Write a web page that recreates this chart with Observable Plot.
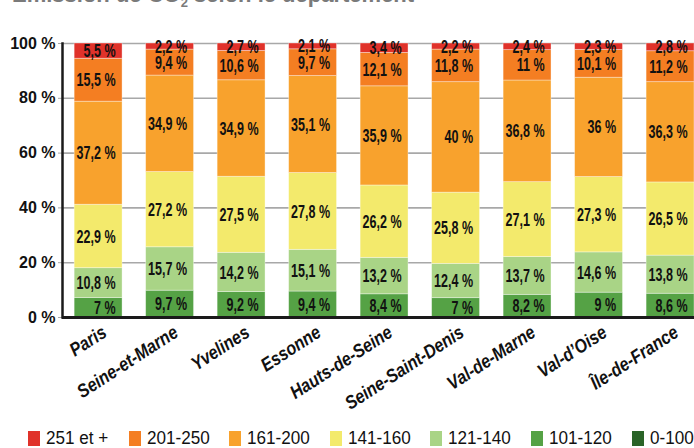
<!DOCTYPE html>
<html lang="fr">
<head>
<meta charset="utf-8">
<script src="https://cdn.jsdelivr.net/npm/d3@7"></script>
<script src="https://cdn.jsdelivr.net/npm/@observablehq/plot@0.6"></script>
<style>
  html, body { margin: 0; padding: 0; background: #fff; overflow: hidden; }
  body { width: 694px; height: 448px; position: relative; font-family: "Liberation Sans", Arial, sans-serif; }
  #title {
    position: absolute; top: -18px; left: 12px; margin: 0; z-index: 2;
    font: bold 22px "Liberation Sans", Arial, sans-serif; color: #7a7a7a; white-space: nowrap;
  }
  #chart { position: absolute; top: 0; left: 0; z-index: 1; }
  #legend {
    position: absolute; top: 431px; left: 28px; display: flex;
    font: 18px "Liberation Sans", Arial, sans-serif; color: #111;
  }
  .item { display: flex; align-items: center; width: 100.6px; white-space: nowrap; }
  .sw { width: 12px; height: 15px; margin-right: 6px; flex: none; }
  .lab { display: inline-block; transform: scaleX(0.95); transform-origin: left center; line-height: 15px; }
</style>
</head>
<body>
<div id="title">Émission de CO<sub style="font-size:13px">2</sub> selon le département</div>
<div id="chart"></div>
<div id="legend"></div>
<script>
// Départements (x axis)
const departements = ["Paris", "Seine-et-Marne", "Yvelines", "Essonne", "Hauts-de-Seine",
  "Seine-Saint-Denis", "Val-de-Marne", "Val-d’Oise", "Île-de-France"];

// Emission classes (g CO2/km), from top of the stack to the bottom
const classes = ["251 et +", "201-250", "161-200", "141-160", "121-140", "101-120", "0-100"];
const couleurs = ["#e0322a", "#f47e22", "#f8a22d", "#f3ea6c", "#a9d486", "#55a245", "#2a6428"];

// Share of each class per département (%)
const part251 = [5.5, 2.2, 2.7, 2.1, 3.4, 2.2, 2.4, 2.3, 2.8];
const part201 = [15.5, 9.4, 10.6, 9.7, 12.1, 11.8, 11, 10.1, 11.2];
const part161 = [37.2, 34.9, 34.9, 35.1, 35.9, 40, 36.8, 36, 36.3];
const part141 = [22.9, 27.2, 27.5, 27.8, 26.2, 25.8, 27.1, 27.3, 26.5];
const part121 = [10.8, 15.7, 14.2, 15.1, 13.2, 12.4, 13.7, 14.6, 13.8];
const part101 = [7, 9.7, 9.2, 9.4, 8.4, 7, 8.2, 9, 8.6];

// y ticks, as fractions of the normalized stack
const yTicks = [0, 0.2, 0.4, 0.6, 0.8, 1];

// Long table, bottom class first
const series = [
  ["101-120", part101], ["121-140", part121], ["141-160", part141],
  ["161-200", part161], ["201-250", part201], ["251 et +", part251]
];
const rows = [];
for (const [cls, vals] of series)
  departements.forEach((d, i) => rows.push({dep: d, cls, value: vals[i]}));

const stackOrder = series.map(s => s[0]);
const fmt = v => String(v).replace(".", ",") + " %";

const chart = Plot.plot({
  width: 694,
  height: 420,
  marginTop: 43,
  marginLeft: 62,
  marginRight: 0,
  marginBottom: 103,
  style: {fontFamily: "'Liberation Sans', Arial, sans-serif", background: "transparent", overflow: "visible"},
  x: {domain: departements, paddingInner: 0.33, paddingOuter: 0.085, align: 1, round: false, label: null},
  y: {domain: [0, 1], label: null},
  color: {domain: classes, range: couleurs},
  marks: [
    Plot.gridY(yTicks.slice(1), {stroke: "#a8a8a8", strokeOpacity: 1, strokeWidth: 1.6}),
    Plot.axisY(yTicks, {
      tickFormat: d => Math.round(d * 100) + " %", tickSize: 4, stroke: "#a8a8a8", tickPadding: 3,
      fontSize: 16, fontWeight: "bold", fill: "#111", label: null
    }),
    // shares stacked to 100 %
    Plot.barY(rows, Plot.stackY(
      {offset: "normalize", order: stackOrder},
      {x: "dep", y: "value", z: "cls", fill: "cls",
       stroke: "#fff", strokeOpacity: 0.45, strokeWidth: 0.8}
    )),
    Plot.text(rows, Plot.stackY(
      {offset: "normalize", order: stackOrder},
      {x: "dep", y: "value", z: "cls",
       text: d => fmt(d.value), textAnchor: "end", dx: 17,
       fontSize: 19, fontWeight: "bold", fill: "#111"}
    )),
    Plot.axisX({
      tickSize: 0, tickRotate: -33, tickPadding: 8, dx: 6, dy: 5,
      fontSize: 19, fontWeight: "bold", fontStyle: "italic", fill: "#111", label: null
    }),
    Plot.ruleY([0], {stroke: "#1a1a1a", strokeWidth: 3}),
    Plot.frame({anchor: "left", stroke: "#1a1a1a", strokeWidth: 2.5})
  ]
});

// Narrow the bold labels horizontally (condensed look)
function squeeze(selector, s) {
  d3.select(chart).selectAll(selector).each(function () {
    const t = this.getAttribute("transform");
    if (t) this.setAttribute("transform", `${t} scale(${s},1)`);
    else {
      const x = +this.getAttribute("x") || 0, y = +this.getAttribute("y") || 0;
      this.setAttribute("x", 0); this.setAttribute("y", 0);
      this.setAttribute("transform", `translate(${x},${y}) scale(${s},1)`);
    }
  });
}
squeeze('g[aria-label="text"] text', 0.66);
squeeze('g[aria-label="x-axis tick label"] text', 0.85);

document.getElementById("chart").append(chart);

// Legend
const legend = document.getElementById("legend");
classes.forEach((c, i) => {
  const item = document.createElement("div");
  item.className = "item";
  const sw = document.createElement("span");
  sw.className = "sw";
  sw.style.background = couleurs[i];
  const lab = document.createElement("span");
  lab.className = "lab";
  lab.textContent = c;
  item.append(sw, lab);
  legend.append(item);
});
</script>
</body>
</html>
